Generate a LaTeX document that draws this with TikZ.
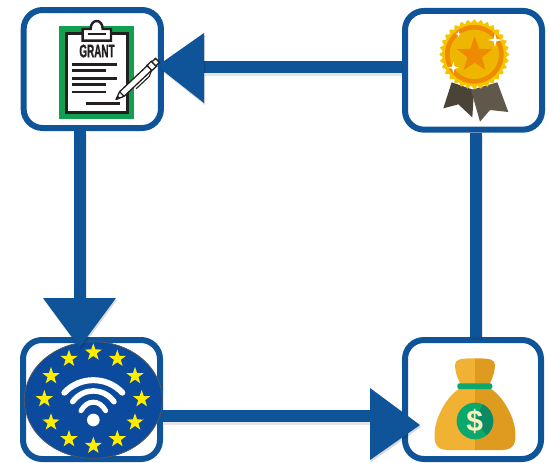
\documentclass[tikz,border=0pt]{standalone}
\usepackage{fontspec}
\usepackage{graphicx}
\setmainfont{Liberation Sans}
\newfontfamily\grantfont{Liberation Sans}[BoldFeatures={FakeBold=1.5}]
\usetikzlibrary{shapes.geometric,shadows,calc}
\definecolor{flowblue}{HTML}{0F5499}
\definecolor{eublue}{HTML}{0C4A9E}
\definecolor{grantgreen}{HTML}{10A04F}
\definecolor{inkdark}{HTML}{231F20}
\definecolor{medalgold}{HTML}{F6C500}
\definecolor{medalinner}{HTML}{EEB600}
\definecolor{medalorange}{HTML}{EE8B00}
\definecolor{ribbondark}{HTML}{4A4337}
\definecolor{ribbonlight}{HTML}{5F584B}
\definecolor{bagleft}{HTML}{F1B133}
\definecolor{bagright}{HTML}{DF9B20}
\definecolor{baggreen}{HTML}{0BA86E}
\definecolor{coindark}{HTML}{0A8B62}
\definecolor{dollarcream}{HTML}{FBF0C0}
\tikzset{
  card/.style={draw=flowblue,line width=6pt,fill=white,rounded corners=19pt,inner sep=0pt,
    drop shadow={opacity=.22,shadow xshift=1pt,shadow yshift=-2pt}},
  conn/.style={draw=flowblue,line width=12pt},
  connshade/.style={draw=black,opacity=.10,line width=12pt,transform canvas={xshift=1pt,yshift=-2.5pt}},
  headfill/.style={fill=flowblue},
  headshade/.style={fill=black,opacity=.15,transform canvas={xshift=1pt,yshift=-2pt}},
  zoomed/.style={x=0.33333pt,y=-0.33333pt},
  euring/.style={star,star points=5,star point ratio=2.5,fill=yellow!95!orange,inner sep=0pt,minimum size=18pt},
  wave/.style={draw=white,line cap=round},
  sheetline/.style={draw=inkdark,line width=2.6pt},
  sparkle/.style={fill=white},
}
\begin{document}
\begin{tikzpicture}[x=1pt,y=-1pt]
\useasboundingbox (0,0) rectangle (549,463);
% anchor coordinates of the connectors
\coordinate (headA) at (204,67);
\coordinate (tipA) at (157,66);
\coordinate (headB) at (80,298);
\coordinate (tipB) at (79.5,347.5);
\coordinate (headC) at (370,416);
\coordinate (tipC) at (420,425);
\coordinate (railD) at (476,230);
% cards
\node[card,minimum width=137.3pt,minimum height=118pt] (grant) at (92.3,69) {};
\node[card,minimum width=137pt,minimum height=118.7pt] (medal) at (473.5,70.3) {};
\node[card,minimum width=137pt,minimum height=119pt] (eu) at (91.5,399.5) {};
\node[card,minimum width=136pt,minimum height=119pt] (money) at (473,399.5) {};
% connector shafts
\draw[connshade] (medal.west |- headA) -- (headA);
\draw[connshade] (grant.south -| headB) -- (headB);
\draw[connshade] (eu.east |- headC) -- (headC);
\draw[connshade] (medal.south -| railD) -- (money.north -| railD);
\draw[conn] (medal.west |- headA) -- (headA);
\draw[conn] (grant.south -| headB) -- (headB);
\draw[conn] (eu.east |- headC) -- (headC);
\draw[conn] (medal.south -| railD) -- (money.north -| railD);
% GRANT clipboard
\begin{scope}[zoomed]
\fill[grantgreen] (178,78) rectangle (403,357);
\draw[inkdark,line width=3.2pt,fill=white] (200,100) rectangle (383,337);
\draw[inkdark,line width=2.4pt,fill=white] (248,122) -- (248,87) -- (272,87) .. controls (272,55) and (308,55) .. (308,87) -- (333,87) -- (333,122) -- cycle;
\draw[inkdark,line width=2pt] (263,101) -- (318,101);
\node[inner sep=0pt,text=inkdark] (granttext) at (291,153) {\fontsize{18}{18}\selectfont\scalebox{0.55}[1]{\grantfont\bfseries GRANT}};
\draw[sheetline] (215,193) -- (351,193);
\draw[sheetline] (215,212) -- (318,212);
\draw[sheetline] (215,235) -- (351,235);
\draw[sheetline] (215,254) -- (318,254);
\draw[sheetline] (215,276) -- (318,276);
\draw[sheetline] (258,311) -- (360,311);
\end{scope}
% pen
\begin{scope}[shift={(116,99.5)},rotate=43.3]
\draw[inkdark,line width=1.3pt,fill=white,line join=round] (0,0) -- (8,-3.2) -- (46,-3.2) -- (46,3.2) -- (8,3.2) -- cycle;
\fill[inkdark] (0,0) -- (4,-1.6) -- (4,1.6) -- cycle;
\draw[inkdark,line width=1.2pt] (8,-3.2) -- (8,3.2);
\draw[inkdark,line width=1.3pt,fill=white] (46,-3.6) rectangle (52,3.6);
\draw[inkdark,line width=1.3pt,fill=white] (52,-2.8) rectangle (57,2.8);
\draw[inkdark,line width=1.1pt] (22,6) -- (40,6) -- (46,3.2);
\end{scope}
% medal
\begin{scope}[zoomed,xshift=390pt]
\fill[ribbondark] (185,247) -- (160,325) -- (205,313) -- (247,352) -- (252,270) -- cycle;
\fill[ribbonlight] (243,270) -- (270,365) -- (300,330) -- (355,336) -- (322,247) -- cycle;
\fill[medalgold] plot[samples=161,domain=0:360,variable=\t]
  ({253+(100+5*cos(32*\t))*cos(\t)},{163+(100+5*cos(32*\t))*sin(\t)}) -- cycle;
\fill[medalorange] (253,163) circle (88);
\fill[medalinner] (253,163) circle (74);
\node[star,star points=5,star point ratio=2.4,fill=medalorange,inner sep=0pt,minimum size=37pt] (medalstar) at (254,165) {};
\foreach \px/\py/\pr/\pq [count=\i] in {315/120/22/4,190/203/18/3.5,205/102/9/2}{
  \fill[sparkle] (\px,\py-\pr) -- (\px+\pq,\py-\pq) -- (\px+\pr,\py) -- (\px+\pq,\py+\pq)
    -- (\px,\py+\pr) -- (\px-\pq,\py+\pq) -- (\px-\pr,\py) -- (\px-\pq,\py-\pq) -- cycle;
}
\end{scope}
% EU wifi disc
\begin{scope}[zoomed,yshift=-290pt]
\draw[eublue,fill=eublue] (280,330) ellipse (206 and 175);
\draw[black!65,line width=.7pt] (280,330) ellipse (207 and 175);
\foreach \px/\py [count=\i] in {280/187,352/206,405/258,425/327,405/397,352/447,280/467,207/447,153/397,133/327,153/258,207/206}{
  \node[euring] (eustar\i) at (\px,\py) {};
}
\draw[wave,line width=6pt] (193,308) .. controls (240,258) and (320,258) .. (367,308);
\draw[wave,line width=5.5pt] (218,335) .. controls (250,292) and (310,292) .. (342,335);
\draw[wave,line width=5pt] (243,362) .. controls (262,328) and (298,328) .. (317,362);
\fill[white] (280,390) circle (19);
\end{scope}
% money bag
\begin{scope}[zoomed,xshift=360pt,yshift=-320pt]
\fill[bagleft] (345,115) -- (345,390) -- (265,390) .. controls (225,390) and (222,365) .. (224,335)
  .. controls (228,285) and (265,225) .. (300,205) -- (300,190) .. controls (290,170) and (285,150) .. (285,135)
  .. controls (285,118) and (300,115) .. (345,115) -- cycle;
\fill[bagright] (345,115) -- (345,390) -- (425,390) .. controls (465,390) and (468,365) .. (466,335)
  .. controls (462,285) and (425,225) .. (390,205) -- (390,190) .. controls (400,170) and (405,150) .. (405,135)
  .. controls (405,118) and (390,115) .. (345,115) -- cycle;
\fill[baggreen,rounded corners=2pt] (292,190) rectangle (397,207);
\fill[baggreen] (345,303) circle (55);
\fill[coindark] (345,303) -- ($(345,303)+(-65:55)$) arc (-65:50:55) -- cycle;
\node[inner sep=0pt,text=dollarcream] (dollar) at (344,303) {\fontsize{30}{30}\selectfont\bfseries\$};
\end{scope}
% arrowheads
\path[headshade] (204,33) -- (tipA) -- (204,103) -- cycle;
\path[headshade] (43,298) -- (tipB) -- (116,298) -- cycle;
\path[headshade] (370,388) -- (tipC) -- (370,460) -- cycle;
\path[headfill] (204,33) -- (tipA) -- (204,103) -- cycle;
\path[headfill] (43,298) -- (tipB) -- (116,298) -- cycle;
\path[headfill] (370,388) -- (tipC) -- (370,460) -- cycle;
\end{tikzpicture}
\end{document}
